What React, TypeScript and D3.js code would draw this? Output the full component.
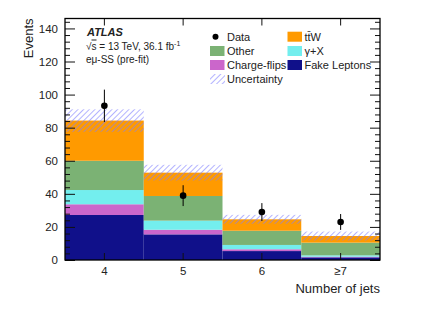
import React, { useEffect, useRef } from "react";
import * as d3 from "d3";

const width = 432;
const height = 310;
const margin = { top: 18.5, right: 52, bottom: 50, left: 65 };

const categories = ["4", "5", "6", "≥7"];
const fakeLeptons = [27.2, 15.5, 5.4, 1.6];
const chargeFlips = [6.5, 2.8, 1.1, 0.4];
const gammaX = [8.6, 5.5, 2.6, 0.8];
const other = [17.7, 14.9, 8.6, 7.7];
const ttW = [24.3, 14.1, 6.9, 4.0];
const uncertainty = [6.8, 4.75, 2.7, 2.7];
const dataValues = [93.2, 38.9, 29, 23];
const dataErrors = [9.8, 6.3, 5.4, 4.8];
const yTicks = [0, 20, 40, 60, 80, 100, 120, 140];

const series = [
  { name: "Fake Leptons", values: fakeLeptons, color: "#10108a" },
  { name: "Charge-flips", values: chargeFlips, color: "#cb66cb" },
  { name: "γ+X", values: gammaX, color: "#73eeee" },
  { name: "Other", values: other, color: "#7bb274" },
  { name: "tt̄W", values: ttW, color: "#ff9a00" },
];

const font = "'Liberation Sans', Arial, sans-serif";

const App = () => {
  const ref = useRef<SVGSVGElement>(null);

  useEffect(() => {
    const svg = d3.select(ref.current);
    svg.selectAll("*").remove();

    const x = d3
      .scaleBand()
      .domain(categories)
      .range([margin.left, width - margin.right])
      .padding(0);
    const y = d3
      .scaleLinear()
      .domain([0, 146])
      .range([height - margin.bottom, margin.top]);

    const defs = svg.append("defs");
    const pat = defs
      .append("pattern")
      .attr("id", "hatch")
      .attr("patternUnits", "userSpaceOnUse")
      .attr("width", 4)
      .attr("height", 4)
      .attr("patternTransform", "rotate(45)");
    pat
      .append("line")
      .attr("x1", 0)
      .attr("y1", 0)
      .attr("x2", 0)
      .attr("y2", 4)
      .attr("stroke", "#7f7fff")
      .attr("stroke-width", 1.2);

    // stacked histogram
    const rows = categories.map((c, i) => {
      const r: any = { cat: c };
      series.forEach((s) => (r[s.name] = s.values[i]));
      return r;
    });
    const stacked = d3.stack().keys(series.map((s) => s.name))(rows);
    stacked.forEach((layer, k) => {
      svg
        .append("g")
        .selectAll("rect")
        .data(layer)
        .join("rect")
        .attr("x", (d: any) => x(d.data.cat)!)
        .attr("width", x.bandwidth())
        .attr("y", (d) => y(d[1]))
        .attr("height", (d) => y(d[0]) - y(d[1]))
        .attr("fill", series[k].color);
    });

    const totals = categories.map((_, i) =>
      d3.sum(series, (s) => s.values[i])
    );

    svg
      .append("g")
      .selectAll("rect")
      .data(categories)
      .join("rect")
      .attr("x", (c) => x(c)!)
      .attr("width", x.bandwidth())
      .attr("y", (_, i) => y(totals[i] + uncertainty[i]))
      .attr("height", (_, i) => y(totals[i] - uncertainty[i]) - y(totals[i] + uncertainty[i]))
      .attr("fill", "url(#hatch)");

    // data points
    const cx = (c: string) => x(c)! + x.bandwidth() / 2;
    const pts = svg.append("g");
    pts
      .selectAll("line")
      .data(categories)
      .join("line")
      .attr("x1", cx)
      .attr("x2", cx)
      .attr("y1", (_, i) => y(dataValues[i] + dataErrors[i]))
      .attr("y2", (_, i) => y(dataValues[i] - dataErrors[i]))
      .attr("stroke", "black")
      .attr("stroke-width", 1);
    pts
      .selectAll("circle")
      .data(categories)
      .join("circle")
      .attr("cx", cx)
      .attr("cy", (_, i) => y(dataValues[i]))
      .attr("r", 3.3)
      .attr("fill", "black");

    // axes, ROOT style ticks pointing inward
    const x0 = margin.left;
    const x1 = width - margin.right;
    const y0 = height - margin.bottom;
    const y1 = margin.top;
    const minor = d3.range(0, 146, 4).filter((v) => v % 20 !== 0);

    const yAxisL = (g: any) =>
      g
        .attr("transform", `translate(${x0},0)`)
        .call(d3.axisLeft(y).tickValues(yTicks).tickSize(-10).tickPadding(7).tickSizeOuter(0))
        .call((g: any) => g.select(".domain").remove())
        .call((g: any) =>
          g.selectAll("text").attr("font-size", 11.5).attr("font-family", font).attr("fill", "#222")
        );
    svg.append("g").call(yAxisL);

    const minorLeft = d3.axisLeft(y).tickValues(minor).tickSize(-5).tickFormat(() => "");
    svg
      .append("g")
      .attr("transform", `translate(${x0},0)`)
      .call(minorLeft)
      .call((g: any) => g.select(".domain").remove());

    svg
      .append("g")
      .attr("transform", `translate(${x1},0)`)
      .call(d3.axisRight(y).tickValues(yTicks).tickSize(-10).tickFormat(() => ""))
      .call((g: any) => g.select(".domain").remove());
    svg
      .append("g")
      .attr("transform", `translate(${x1},0)`)
      .call(d3.axisRight(y).tickValues(minor).tickSize(-5).tickFormat(() => ""))
      .call((g: any) => g.select(".domain").remove());

    svg
      .append("g")
      .attr("transform", `translate(0,${y0})`)
      .call(d3.axisBottom(x).tickSize(-7).tickPadding(7).tickSizeOuter(0))
      .call((g: any) => g.select(".domain").remove())
      .call((g: any) =>
        g.selectAll("text").attr("font-size", 11.5).attr("font-family", font).attr("fill", "#222")
      );
    svg
      .append("g")
      .attr("transform", `translate(0,${y1})`)
      .call(d3.axisTop(x).tickSize(-7).tickFormat(() => ""))
      .call((g: any) => g.select(".domain").remove());

    svg.selectAll(".tick line").attr("stroke", "#111").attr("stroke-width", 1);

    svg
      .append("rect")
      .attr("x", x0)
      .attr("y", y1)
      .attr("width", x1 - x0)
      .attr("height", y0 - y1)
      .attr("fill", "none")
      .attr("stroke", "black")
      .attr("stroke-width", 1.3);

    // axis titles
    svg
      .append("text")
      .attr("transform", `translate(33,${y1}) rotate(-90)`)
      .attr("text-anchor", "end")
      .attr("font-family", font)
      .attr("font-size", 13)
      .attr("fill", "#222")
      .text("Events");
    svg
      .append("text")
      .attr("x", x1)
      .attr("y", 293)
      .attr("text-anchor", "end")
      .attr("font-family", font)
      .attr("font-size", 13)
      .attr("fill", "#222")
      .text("Number of jets");

    // ATLAS label
    const lab = svg.append("g").attr("font-family", font).attr("fill", "#222");
    lab
      .append("text")
      .attr("x", 87)
      .attr("y", 36)
      .attr("font-size", 11)
      .attr("font-weight", "bold")
      .attr("font-style", "italic")
      .text("ATLAS");
    const t2 = lab.append("text").attr("x", 86).attr("y", 49.5).attr("font-size", 10);
    t2.append("tspan").text("√");
    t2.append("tspan").attr("text-decoration", "overline").text("s");
    t2.append("tspan").text(" = 13 TeV, 36.1 fb");
    t2.append("tspan").attr("dy", -4).attr("font-size", 7).text("-1");
    lab.append("text").attr("x", 86).attr("y", 63).attr("font-size", 10).text("eμ-SS (pre-fit)");

    // legend
    const leg = svg.append("g").attr("font-family", font).attr("font-size", 11).attr("fill", "#222");
    const rowY = [36.7, 51, 65, 79];
    const legendItems = [
      { label: "Data", col: 0, row: 0, kind: "data" },
      { label: "tt̄W", col: 1, row: 0, color: series[4].color },
      { label: "Other", col: 0, row: 1, color: series[3].color },
      { label: "γ+X", col: 1, row: 1, color: series[2].color },
      { label: "Charge-flips", col: 0, row: 2, color: series[1].color },
      { label: "Fake Leptons", col: 1, row: 2, color: series[0].color },
      { label: "Uncertainty", col: 0, row: 3, kind: "hatch" },
    ];
    const colX = [210, 287.5];
    legendItems.forEach((it: any) => {
      const bx = colX[it.col];
      const cy = rowY[it.row];
      if (it.kind === "data") {
        leg.append("circle").attr("cx", bx + 5.5).attr("cy", cy).attr("r", 3).attr("fill", "black");
      } else if (it.kind === "hatch") {
        leg
          .append("rect")
          .attr("x", bx)
          .attr("y", cy - 5)
          .attr("width", 15)
          .attr("height", 10)
          .attr("fill", "url(#hatch)");
      } else {
        leg
          .append("rect")
          .attr("x", bx)
          .attr("y", cy - 5)
          .attr("width", 14.5)
          .attr("height", 10)
          .attr("fill", it.color);
      }
      leg
        .append("text")
        .attr("x", bx + 17)
        .attr("y", cy + 4)
        .text(it.label);
    });
  }, []);

  return (
    <svg
      ref={ref}
      width={width}
      height={height}
      style={{ position: "absolute", left: 0, top: 0, background: "white" }}
    />
  );
};

export default App;
